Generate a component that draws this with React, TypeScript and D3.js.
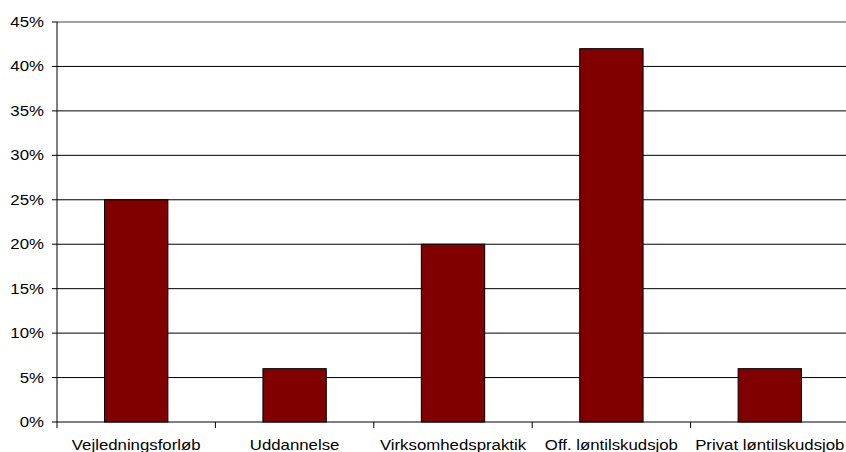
import React from "react";
import * as d3 from "d3";

const categories = ["Vejledningsforløb", "Uddannelse", "Virksomhedspraktik", "Off. løntilskudsjob", "Privat løntilskudsjob"];
const values = [25, 6, 20, 42, 6];
const yTicks = [0, 5, 10, 15, 20, 25, 30, 35, 40, 45];

const W = 846, H = 452;
const left = 57, right = 849, top = 22, bottom = 422;

export default function App() {
  const x = d3.scaleBand<string>().domain(categories).range([left, right]).paddingInner(0.6).paddingOuter(0.3);
  const band = d3.scaleBand<string>().domain(categories).range([left, right]);
  const y = d3.scaleLinear().domain([0, 45]).range([bottom, top]);
  const font = "'Liberation Sans', Arial, sans-serif";
  return (
    <svg width={W} height={H} style={{ position: "absolute", left: 0, top: 0, background: "#fff" }} fontFamily={font}>
      {yTicks.map((t) => (
        <g key={t}>
          {t > 0 && <line x1={left} x2={W} y1={y(t)} y2={y(t)} stroke={t === 45 ? "#808080" : "#000"} strokeWidth={t === 45 ? 1.5 : 1} />}
          <line x1={left - 5} x2={left} y1={y(t)} y2={y(t)} stroke="#000" />
          <text transform={`translate(44,${y(t)}) scale(1.2,1)`} dy="0.36em" textAnchor="end" fontSize={14} fill="#000">{t}%</text>
        </g>
      ))}
      {categories.map((c, i) => (
        <rect key={c} x={x(c)} y={y(values[i])} width={x.bandwidth()} height={bottom - y(values[i])} fill="#800000" stroke="#000" strokeWidth={1} />
      ))}
      <line x1={left} x2={left} y1={top} y2={bottom} stroke="#000" />
      <line x1={left} x2={right} y1={bottom} y2={bottom} stroke="#000" />
      {categories.map((c, i) => (
        <line key={"t" + c} x1={band(c)!} x2={band(c)!} y1={bottom} y2={bottom + 6} stroke="#000" />
      ))}
      {categories.map((c) => (
        <text key={"l" + c} transform={`translate(${band(c)! + band.bandwidth() / 2},449.5) scale(1.2,1)`} textAnchor="middle" fontSize={14} fill="#000">{c}</text>
      ))}
    </svg>
  );
}
